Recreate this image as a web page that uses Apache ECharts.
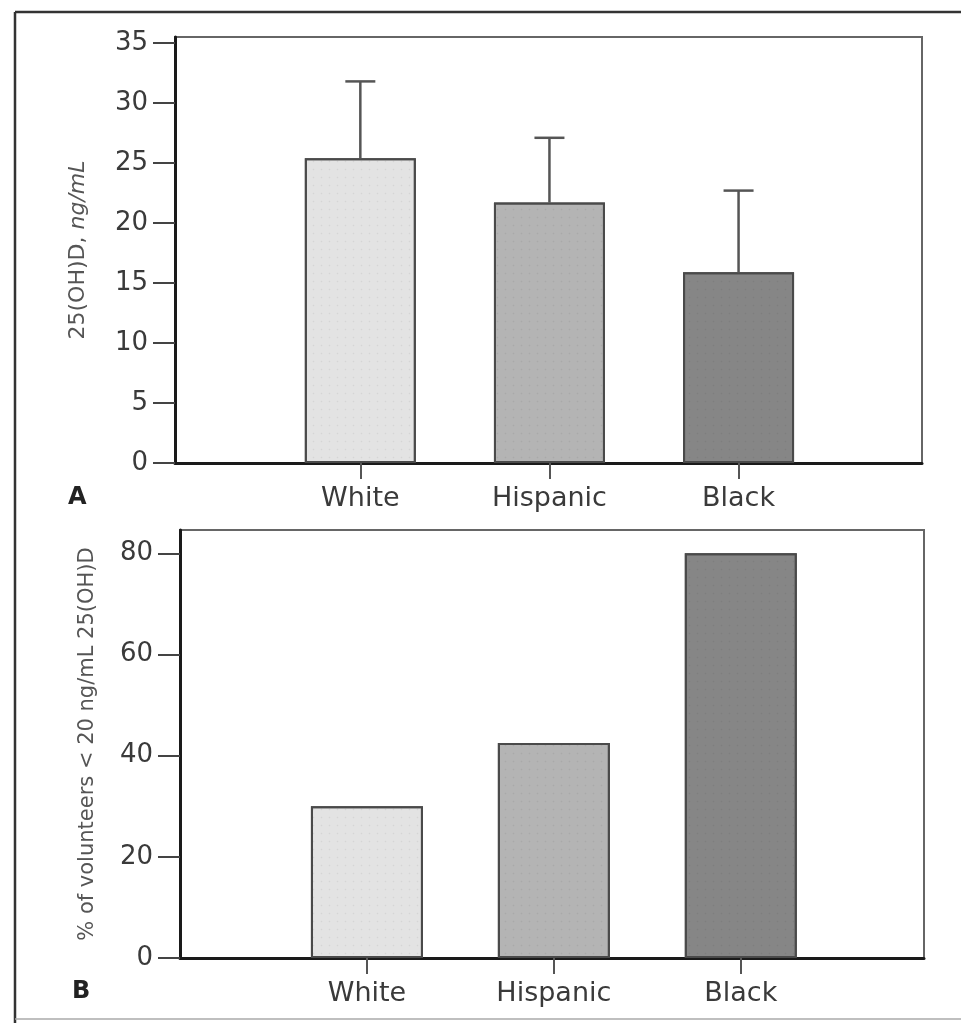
<!DOCTYPE html>
<html>
<head>
<meta charset="utf-8">
<script src="https://cdn.jsdelivr.net/npm/echarts/dist/echarts.min.js"></script>
<style>
html,body{margin:0;padding:0;background:#fff;}
#chart{width:961px;height:1023px;}
</style>
</head>
<body>
<div id="chart"></div>
<script>
// groups
var groups = ['White', 'Hispanic', 'Black'];
var groupPos = [1, 2, 3];
// panel A: mean 25(OH)D and mean + SD
var meanA = [25.4, 21.7, 15.9];
var upperA = [31.8, 27.1, 22.7];
var ticksA = [0, 5, 10, 15, 20, 25, 30, 35];
// panel B: % of volunteers < 20 ng/mL
var pctB = [30, 42.5, 80];
var ticksB = [0, 20, 40, 60, 80];

var barColors = ['#e3e3e3', '#b4b4b4', '#868686'];
var txt = '#3a3a3a';
var font = 'DejaVu Sans';

function barData(vals) {
	var out = [];
	for (var i = 0; i < vals.length; i++) {
		out.push({
			value: [groupPos[i], vals[i]],
			itemStyle: {color: barColors[i]}
		});
	}
	return out;
}
function errData(mean, upper) {
	var out = [];
	for (var i = 0; i < mean.length; i++) {
		out.push([groupPos[i], mean[i], upper[i]]);
	}
	return out;
}
function xAxisOpt(idx, min, max) {
	return {
		type: 'value', gridIndex: idx, min: min, max: max,
		splitLine: {show: false},
		axisLine: {show: true, onZero: false, lineStyle: {color: '#1a1a1a', width: 3}},
		axisTick: {show: true, length: 16, customValues: groupPos, lineStyle: {color: '#555', width: 2}},
		axisLabel: {
			customValues: groupPos, margin: 22, color: txt, fontFamily: font, fontSize: 27,
			formatter: function (v) { return groups[v - 1] || ''; }
		}
	};
}
function yAxisOpt(idx, max, ticks, name, nameGap, nameSize) {
	return {
		type: 'value', gridIndex: idx, min: 0, max: max,
		name: name, nameLocation: 'middle', nameGap: nameGap, nameRotate: 90,
		nameTextStyle: {
			color: '#555', fontFamily: font, fontSize: nameSize,
			rich: {it: {fontStyle: 'italic', color: '#555', fontFamily: font, fontSize: nameSize}}
		},
		splitLine: {show: false},
		axisLine: {show: true, lineStyle: {color: '#1a1a1a', width: 3}},
		axisTick: {show: true, length: 22, customValues: ticks, lineStyle: {color: '#444', width: 2}},
		axisLabel: {customValues: ticks, margin: 27, color: txt, fontFamily: font, fontSize: 26}
	};
}
function errRender(params, api) {
	var x = api.value(0);
	var lo = api.coord([x, api.value(1)]);
	var hi = api.coord([x, api.value(2)]);
	var style = {stroke: '#555', lineWidth: 2.5};
	return {
		type: 'group',
		children: [
			{type: 'line', shape: {x1: lo[0], y1: lo[1], x2: hi[0], y2: hi[1]}, style: style},
			{type: 'line', shape: {x1: hi[0] - 15, y1: hi[1], x2: hi[0] + 15, y2: hi[1]}, style: style}
		]
	};
}

var decal = {
	symbol: 'rect', symbolSize: 0.5, color: 'rgba(0,0,0,0.06)',
	dashArrayX: [[3, 5]], dashArrayY: [3, 5]
};

var chart = echarts.init(document.getElementById('chart'), null, {renderer: 'canvas'});
chart.setOption({
	backgroundColor: '#fff',
	animation: false,
	grid: [
		{left: 175, top: 37, width: 747, height: 426, show: true, borderColor: '#666', borderWidth: 2, containLabel: false},
		{left: 180, top: 530, width: 744, height: 428, show: true, borderColor: '#666', borderWidth: 2, containLabel: false}
	],
	xAxis: [xAxisOpt(0, 0.02, 3.97), xAxisOpt(1, 0, 3.98)],
	yAxis: [
		yAxisOpt(0, 35.5, ticksA, '25(OH)D, {it|ng/mL}', 86, 22),
		yAxisOpt(1, 84.6, ticksB, '% of volunteers < 20 ng/mL 25(OH)D', 82, 21)
	],
	series: [
		{
			type: 'bar', xAxisIndex: 0, yAxisIndex: 0, barWidth: 111,
			itemStyle: {borderColor: '#4a4a4a', borderWidth: 2, decal: decal},
			data: barData(meanA)
		},
		{
			type: 'custom', xAxisIndex: 0, yAxisIndex: 0, z: 3,
			renderItem: errRender,
			data: errData(meanA, upperA)
		},
		{
			type: 'bar', xAxisIndex: 1, yAxisIndex: 1, barWidth: 112,
			itemStyle: {borderColor: '#4a4a4a', borderWidth: 2, decal: decal},
			data: barData(pctB)
		}
	],
	graphic: [
		{type: 'line', shape: {x1: 15, y1: 12, x2: 961, y2: 12}, style: {stroke: '#333', lineWidth: 2.5}},
		{type: 'line', shape: {x1: 15, y1: 12, x2: 15, y2: 1023}, style: {stroke: '#333', lineWidth: 2.5}},
		{type: 'line', shape: {x1: 15, y1: 1019, x2: 961, y2: 1019}, style: {stroke: '#aaa', lineWidth: 1.5}},
		{type: 'text', left: 68, top: 486, style: {text: 'A', fill: '#222', font: 'bold 24px "DejaVu Sans"'}},
		{type: 'text', left: 72, top: 980, style: {text: 'B', fill: '#222', font: 'bold 24px "DejaVu Sans"'}}
	]
});
</script>
</body>
</html>
